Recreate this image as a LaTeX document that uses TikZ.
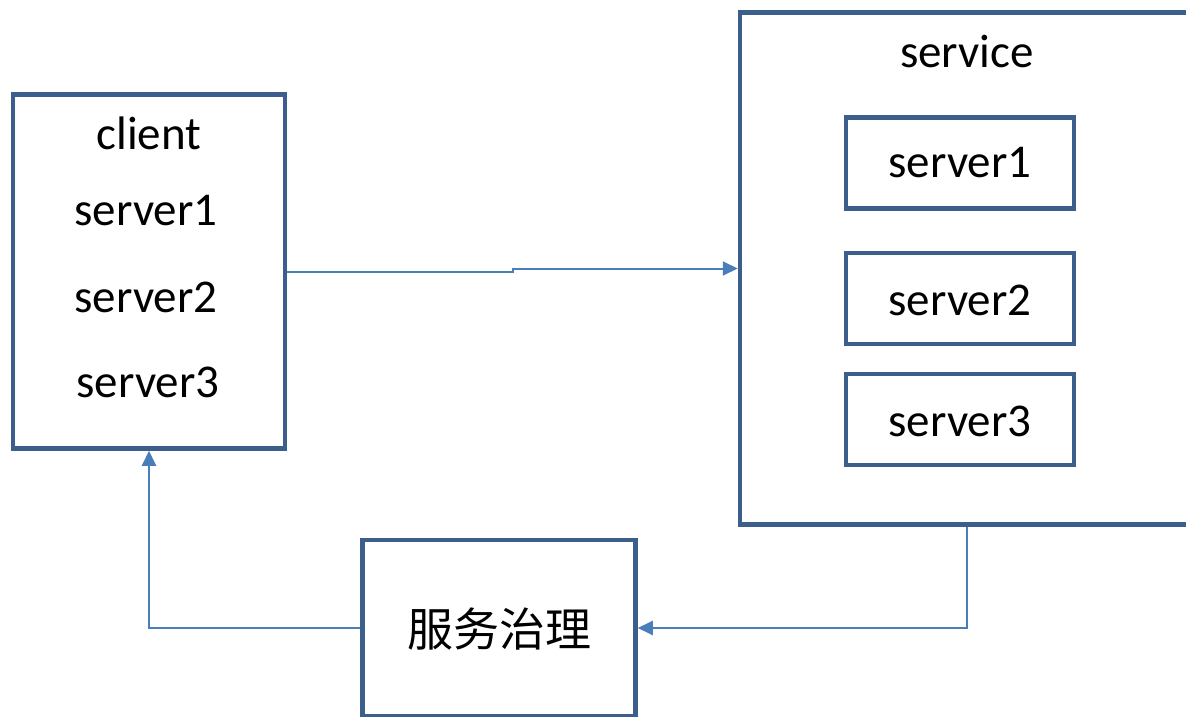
\documentclass[tikz,border=0pt]{standalone}
\usepackage{fontspec}
\setmainfont{Carlito}
\newfontfamily\cjk{Noto Sans CJK SC}
\usetikzlibrary{arrows.meta}
\definecolor{boxblue}{HTML}{3B5E8C}
\definecolor{arrowblue}{HTML}{4A7EBB}
\tikzset{
  box/.style={draw=boxblue, line width=4.5pt, rectangle, inner sep=0pt, fill=white},
  lbl/.style={font=\fontsize{47}{56}\selectfont, inner sep=0pt, anchor=center},
  conn/.style={draw=arrowblue, line width=2pt, -{Triangle[length=15pt,width=14pt]}},
}
\begin{document}
\begin{tikzpicture}[x=1pt,y=-1pt]
\useasboundingbox (0,0) rectangle (1186,717);
\clip (0,0) rectangle (1186,717);
\fill[white] (0,0) rectangle (1186,717);
% client
\node[box, minimum width=272pt, minimum height=354pt] (client) at (149,271.5) {};
\node[lbl] (ctitle) at (149,133) {client};
\node[lbl] (cs1) at (146,211) {server1};
\node[lbl] (cs2) at (146,297) {server2};
\node[lbl] (cs3) at (148,382) {server3};
% service
\node[box, minimum width=454pt, minimum height=512pt] (service) at (967,268.5) {};
\node[lbl] (stitle) at (967,52) {service};
\node[box, minimum width=228pt, minimum height=91pt] (s1) at (960,163) {};
\node[lbl] (s1t) at (960,163) {server1};
\node[box, minimum width=228pt, minimum height=91pt] (s2) at (960,298.5) {};
\node[lbl] (s2t) at (960,300) {server2};
\node[box, minimum width=228pt, minimum height=91pt] (s3) at (960,419.5) {};
\node[lbl] (s3t) at (960,421) {server3};
% governance
\node[box, minimum width=273pt, minimum height=176pt] (gov) at (499,628) {};
\node[lbl, font=\cjk\fontsize{46}{56}\selectfont] (govt) at (499,629) {服务治理};
% connectors
\coordinate (step) at (513,271.5);
\draw[conn] (client.east) -- (step) |- (service.west);
\draw[conn] (service.south) |- (gov.east);
\draw[conn] (gov.west) -| (client.south);
\end{tikzpicture}
\end{document}
